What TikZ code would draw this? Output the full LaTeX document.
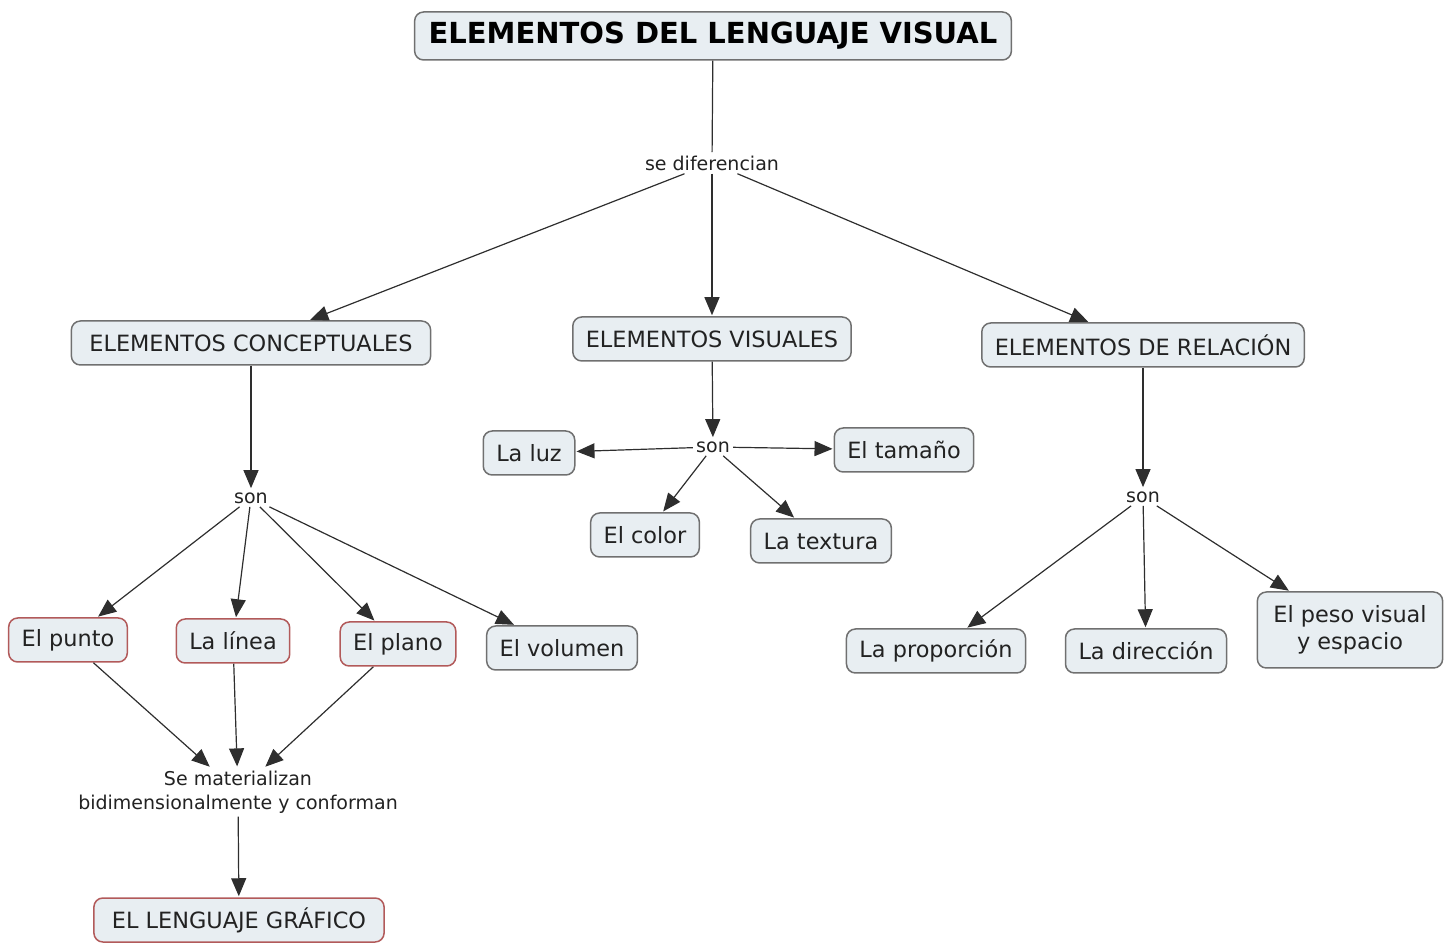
\documentclass[tikz,border=0pt]{standalone}
\usepackage{fontspec}
\setmainfont{DejaVu Sans}
\usetikzlibrary{arrows.meta}
\definecolor{boxF}{HTML}{E8EEF2}
\definecolor{boxB}{HTML}{707070}
\definecolor{redB}{HTML}{B25A5A}
\definecolor{linC}{HTML}{2E2E2E}
\definecolor{txtC}{HTML}{222222}
\tikzset{
 box/.style={draw=boxB, fill=boxF, line width=0.75pt, rounded corners=4.5pt, align=center,
             inner xsep=6.5pt, minimum height=22pt, text=txtC,
             font=\fontsize{11.2}{13.5}\selectfont},
 redbox/.style={box, draw=redB},
 titlebox/.style={box, inner xsep=7pt, minimum height=24pt, text=black,
             font=\fontsize{14.5}{17}\selectfont\bfseries},
 lab/.style={fill=white, inner sep=1.5pt, align=center, text=txtC,
             font=\fontsize{9.5}{12}\selectfont},
 arr/.style={-{Triangle[length=9pt,width=7.5pt]}, line width=0.6pt, draw=linC, shorten >=0.5pt},
 lin/.style={line width=0.6pt, draw=linC},
}
\begin{document}
\begin{tikzpicture}[x=0.5pt, y=-0.5pt]
\useasboundingbox (0,0) rectangle (1450,945);
% top
\node[titlebox] (title) at (713,36) {ELEMENTOS DEL LENGUAJE VISUAL};
\node[lab] (dif) at (712,163) {se diferencian};
% three groups
\node[box, inner xsep=9pt] (conc) at (251,343) {ELEMENTOS CONCEPTUALES};
\node[box] (vis) at (712,339) {ELEMENTOS VISUALES};
\node[box] (rel) at (1143,345) {ELEMENTOS DE RELACIÓN};
% linking words
\node[lab] (sonc) at (251,498) {son};
\node[lab] (sonv) at (713,447) {son};
\node[lab] (sonr) at (1143,497) {son};
% visuales
\node[box] (luz) at (529,453) {La luz};
\node[box] (tam) at (904,450) {El tamaño};
\node[box] (col) at (645,535) {El color};
\node[box] (tex) at (821,541) {La textura};
% conceptuales
\node[redbox] (pun) at (68,640) {El punto};
\node[redbox] (lin) at (233,641) {La línea};
\node[redbox] (pla) at (398,644) {El plano};
\node[box] (vol) at (562,648) {El volumen};
\node[lab] (mat) at (238,792) {Se materializan\\bidimensionalmente y conforman};
\node[redbox, inner xsep=9pt] (graf) at (239,920) {EL LENGUAJE GRÁFICO};
% relacion
\node[box] (pro) at (936,651) {La proporción};
\node[box] (dir) at (1146,651) {La dirección};
\node[box, minimum height=38pt, inner xsep=8pt] (pes) at (1350,630) {El peso visual\\y espacio};
% arrows
\draw[lin] (title) -- (dif);
\draw[arr] (dif) -- (conc);
\draw[arr] (dif) -- (vis);
\draw[arr] (dif) -- (rel);
\draw[arr] (conc) -- (sonc);
\draw[arr] (vis) -- (sonv);
\draw[arr] (rel) -- (sonr);
\draw[arr] (sonv) -- (luz);
\draw[arr] (sonv) -- (tam);
\draw[arr] (sonv) -- (col);
\draw[arr] (sonv) -- (tex);
\draw[arr] (sonc) -- (pun);
\draw[arr] (sonc) -- (lin);
\draw[arr] (sonc) -- (pla);
\draw[arr] (sonc) -- (vol);
\draw[arr] (pun) -- (mat);
\draw[arr] (lin) -- (mat);
\draw[arr] (pla) -- (mat);
\draw[arr] (mat) -- (graf);
\draw[arr] (sonr) -- (pro);
\draw[arr] (sonr) -- (dir);
\draw[arr] (sonr) -- (pes);
\end{tikzpicture}
\end{document}
